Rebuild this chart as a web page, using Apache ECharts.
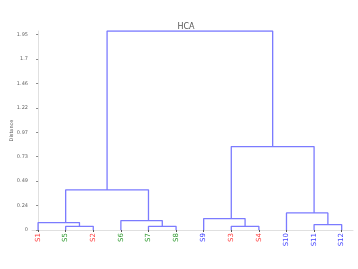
<!DOCTYPE html>
<html>
<head>
<meta charset="utf-8">
<script src="https://cdn.jsdelivr.net/npm/echarts@6/dist/echarts.min.js"></script>
<style>
  html, body { margin: 0; padding: 0; background: #fff; }
  #chart { width: 358px; height: 269px; }
</style>
</head>
<body>
<div id="chart"></div>
<script>
// leaves in dendrogram order
const leafLabels = ['S1', 'S5', 'S2', 'S6', 'S7', 'S8', 'S9', 'S3', 'S4', 'S10', 'S11', 'S12']
const leafColors = ['red', 'green', 'red', 'green', 'green', 'green', 'blue', 'red', 'red', 'blue', 'blue', 'blue']

// merges: [left node, right node, height]; new node ids start at 12
const merges = [
  [1, 2, 0.037],
  [0, 12, 0.074],
  [4, 5, 0.037],
  [3, 14, 0.094],
  [13, 15, 0.40],
  [7, 8, 0.037],
  [6, 17, 0.114],
  [10, 11, 0.054],
  [9, 19, 0.17],
  [18, 20, 0.83],
  [16, 21, 1.98]
]

const yTicks = [0, 0.24325, 0.4865, 0.72975, 0.973, 1.21625, 1.4595, 1.70275, 1.946]
const yTickLabels = ['0', '0.24', '0.49', '0.73', '0.97', '1.22', '1.46', '1.7', '1.95']

const colorMap = {red: '#ff4040', green: '#2e9a2e', blue: '#4444ff'}

// node positions: x = mean of the node's leaf indices, y = height
const nodeX = leafLabels.map((_, i) => i)
const nodeY = leafLabels.map(() => 0)
const nodeN = leafLabels.map(() => 1)
const linkData = []
merges.forEach(function (m) {
  const [a, b, h] = m
  linkData.push([nodeX[a], nodeY[a]], [nodeX[a], h], [nodeX[b], h], [nodeX[b], nodeY[b]], '-')
  const n = nodeN[a] + nodeN[b]
  nodeX.push((nodeX[a] * nodeN[a] + nodeX[b] * nodeN[b]) / n)
  nodeY.push(h)
  nodeN.push(n)
})

const rich = {}
Object.keys(colorMap).forEach(function (k) {
  rich[k] = {color: colorMap[k], fontSize: 7, fontFamily: 'DejaVu Sans'}
})

const chart = echarts.init(document.getElementById('chart'))
chart.setOption({
  animation: false,
  title: {
    text: 'HCA',
    left: 181,
    top: 18,
    textAlign: 'center',
    textStyle: {fontSize: 8, fontWeight: 'normal', color: '#555', fontFamily: 'DejaVu Sans'}
  },
  grid: {left: 32, right: 5, top: 31, bottom: 39, outerBoundsMode: 'none', containLabel: false},
  xAxis: {
    type: 'value',
    min: -0.22,
    max: 11.41,
    splitLine: {show: false},
    axisLine: {lineStyle: {color: '#e0e0e0', width: 1}},
    axisTick: {
      length: 2,
      lineStyle: {color: '#555'},
      customValues: nodeX.slice(0, leafLabels.length)
    },
    axisLabel: {
      customValues: nodeX.slice(0, leafLabels.length),
      rotate: 90,
      margin: 3,
      formatter: function (v) {
        const i = Math.round(v)
        return '{' + leafColors[i] + '|' + leafLabels[i] + '}'
      },
      rich: rich
    }
  },
  yAxis: {
    type: 'value',
    min: 0,
    max: 1.98,
    name: 'Distance',
    nameLocation: 'middle',
    nameGap: 18,
    nameMoveOverlap: false,
    nameRotate: 90,
    nameTextStyle: {fontSize: 5, color: '#555', fontFamily: 'DejaVu Sans'},
    splitLine: {show: false},
    axisLine: {show: true, lineStyle: {color: '#e0e0e0', width: 1}},
    axisTick: {show: true, length: 2, lineStyle: {color: '#888'}, customValues: yTicks},
    axisLabel: {
      customValues: yTicks,
      fontSize: 5,
      color: '#666',
      margin: 4,
      fontFamily: 'DejaVu Sans',
      formatter: function (v) {
        const i = yTicks.findIndex(t => Math.abs(t - v) < 1e-6)
        return i >= 0 ? yTickLabels[i] : ''
      }
    }
  },
  series: [{
    type: 'line',
    data: linkData,
    showSymbol: false,
    connectNulls: false,
    lineStyle: {color: '#7b7bff', width: 1.3},
    silent: true
  }]
})
</script>
</body>
</html>
